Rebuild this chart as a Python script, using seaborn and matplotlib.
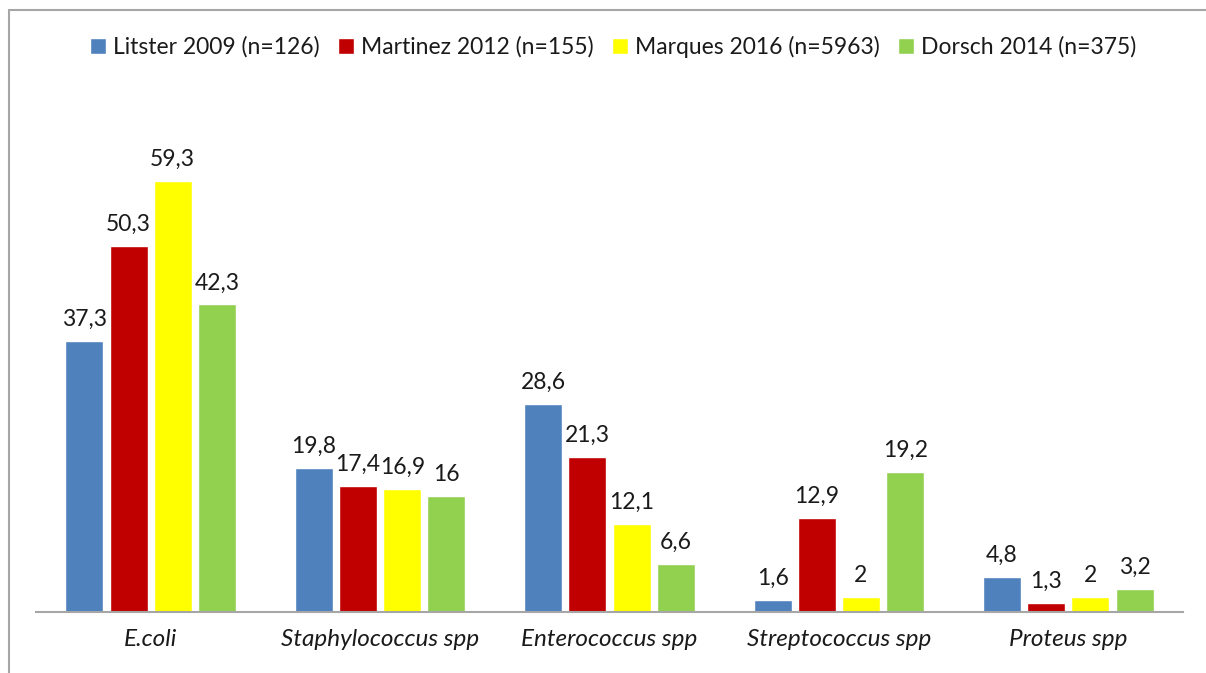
import pandas as pd
import seaborn as sns
import matplotlib.pyplot as plt
from matplotlib.lines import Line2D

categories = ["E.coli", "Staphylococcus spp", "Enterococcus spp", "Streptococcus spp", "Proteus spp"]
series = ["Litster 2009 (n=126)", "Martinez 2012 (n=155)", "Marques 2016 (n=5963)", "Dorsch 2014 (n=375)"]
litster = [37.3, 19.8, 28.6, 1.6, 4.8]
martinez = [50.3, 17.4, 21.3, 12.9, 1.3]
marques = [59.3, 16.9, 12.1, 2, 2]
dorsch = [42.3, 16, 6.6, 19.2, 3.2]
colors = ["#4F81BD", "#C00000", "#FFFF00", "#92D050"]

rows = []
for name, vals in zip(series, [litster, martinez, marques, dorsch]):
    for cat, v in zip(categories, vals):
        rows.append({"category": cat, "study": name, "value": v})
df = pd.DataFrame(rows)

sns.set_style("white")
plt.rcParams["font.family"] = ["Lato", "DejaVu Sans"]

fig = plt.figure(figsize=(12.06, 6.73), dpi=100)
ax = fig.add_axes([36 / 1206, 1 - 612 / 673, (1183 - 36) / 1206, 512 / 673])

sns.barplot(data=df, x="category", y="value", hue="study", palette=colors,
            width=0.77, gap=0.14, ax=ax, saturation=1)

for cont in ax.containers:
    ax.bar_label(cont, labels=[f"{b.get_height():g}".replace(".", ",") for b in cont],
                 padding=8, fontsize=16.5, color="#1a1a1a")

ax.set_ylim(0, 512 / 7.27)
ax.set_xlim(-0.5, 4.5)
ax.set_xlabel("")
ax.set_ylabel("")
ax.set_yticks([])
ax.tick_params(axis="x", length=0, pad=12, labelsize=17.5)
for lbl in ax.get_xticklabels():
    lbl.set_fontstyle("italic")
    lbl.set_color("#1a1a1a")
for s in ["top", "right", "left"]:
    ax.spines[s].set_visible(False)
ax.spines["bottom"].set_color("#A6A6A6")
ax.spines["bottom"].set_linewidth(1.5)

ax.legend(loc="center", bbox_to_anchor=(613 / 1206, 1 - 47 / 673), bbox_transform=fig.transFigure,
          ncol=4, frameon=False, fontsize=16.5, handlelength=0.7, handleheight=0.7,
          handletextpad=0.3, columnspacing=0.8, labelcolor="#1a1a1a")

# chart frame
fig.add_artist(Line2D([9 / 1206, 9 / 1206], [0, 1 - 10 / 673], color="#A6A6A6", lw=1.5))
fig.add_artist(Line2D([9 / 1206, 1], [1 - 10 / 673, 1 - 10 / 673], color="#A6A6A6", lw=1.5))

fig.savefig("out.png", dpi=100)
